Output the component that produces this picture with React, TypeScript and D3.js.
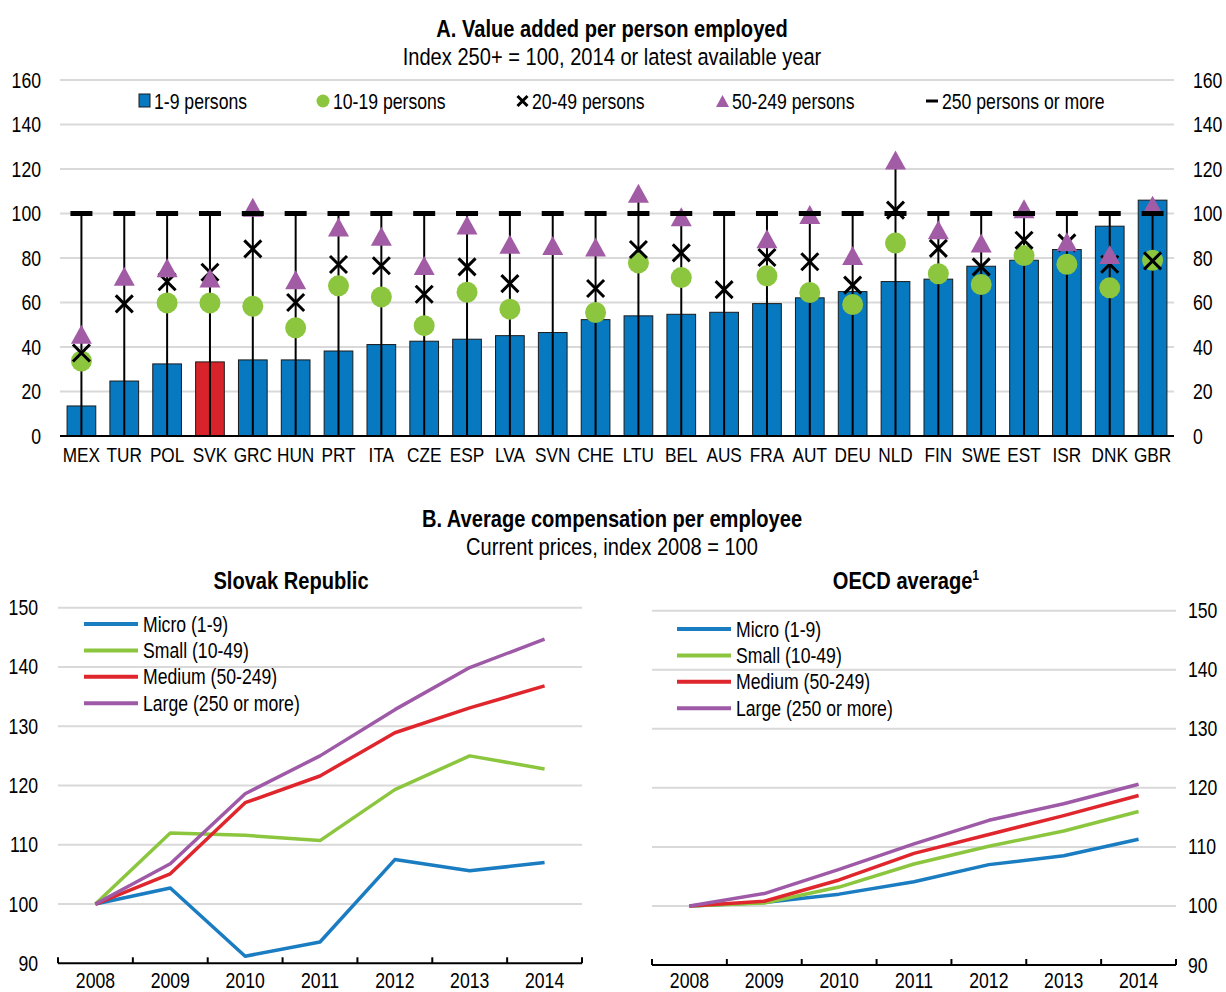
import React from "react";
import * as d3 from "d3";

const countries = ["MEX","TUR","POL","SVK","GRC","HUN","PRT","ITA","CZE","ESP","LVA","SVN","CHE","LTU","BEL","AUS","FRA","AUT","DEU","NLD","FIN","SWE","EST","ISR","DNK","GBR"];
const micro19: number[] = [13.5,24.7,32.4,33.3,34.2,34.2,38.2,41.1,42.6,43.5,45.1,46.5,52.3,54.0,54.7,55.6,59.5,62.1,64.9,69.4,70.5,76.3,79.0,83.8,94.3,106.0];
const small1019: (number|null)[] = [33.7,null,59.8,59.8,58.3,48.6,67.5,62.5,49.6,64.6,57.0,null,55.5,77.8,71.2,null,72.0,64.5,59.1,86.7,72.9,68.1,81.1,77.2,66.6,79.0];
const small2049: (number|null)[] = [37.3,59.4,69.3,73.6,84.1,60.0,77.1,76.5,63.7,76.0,68.5,null,66.3,83.8,82.3,65.8,80.2,78.3,67.8,101.5,84.3,76.0,88.0,86.8,77.2,78.7];
const medium50249: (number|null)[] = [45.7,71.8,75.6,71.0,102.8,70.2,93.9,89.8,76.6,94.8,86.2,85.6,84.9,109.1,98.5,null,88.6,99.6,81.1,124.1,92.7,86.7,102.1,87.3,81.6,103.7];
const large250: number[] = countries.map(() => 100);
const yTicksA = [0,20,40,60,80,100,120,140,160];

const years = ["2008","2009","2010","2011","2012","2013","2014"];
const yTicksB = [90,100,110,120,130,140,150];
const seriesNames = ["Micro (1-9)","Small (10-49)","Medium (50-249)","Large (250 or more)"];
const seriesColors = ["#1a7cc1","#8cc63f","#e0262d","#9e5aa6"];
const svkMicro = [100,102.7,91.2,93.6,107.5,105.6,107.0];
const svkSmall = [100,112.0,111.6,110.7,119.3,125.0,122.8];
const svkMedium = [100,105.1,117.1,121.6,128.9,133.1,136.8];
const svkLarge = [100,106.8,118.6,125.0,132.8,139.9,144.7];
const oecdMicro = [100,100.6,102.0,104.1,107.0,108.5,111.3];
const oecdSmall = [100,100.5,103.2,107.1,110.1,112.7,116.0];
const oecdMedium = [100,100.8,104.4,108.9,112.1,115.3,118.7];
const oecdLarge = [100,102.1,106.2,110.5,114.5,117.3,120.6];

const FONT = "'Liberation Sans',Arial,sans-serif";
const SX = 0.82;
const BLUE = "#0679c0";
const RED = "#d9232a";
const GREEN = "#8cc63f";
const PURPLE = "#a25ba5";
const GRID = "#d9d9d9";

function T({ x, y, size, anchor, bold, children }: any) {
  return (
    <text transform={`translate(${x},${y}) scale(${SX},1)`} textAnchor={anchor || "start"} fontSize={size} fontWeight={bold ? "bold" : "normal"} fill="#000">
      {children}
    </text>
  );
}

function Cross({ x, y, s }: { x: number; y: number; s: number }) {
  return <path d={`M${x - s},${y - s}L${x + s},${y + s}M${x - s},${y + s}L${x + s},${y - s}`} stroke="#000" strokeWidth={3} fill="none" />;
}
function Tri({ x, y, w, h }: { x: number; y: number; w: number; h: number }) {
  return <path d={`M${x},${y - h / 2}L${x + w / 2},${y + h / 2}L${x - w / 2},${y + h / 2}Z`} fill={PURPLE} />;
}

function PanelA() {
  const x = d3.scaleBand<string>().domain(countries).range([60, 1174]).paddingInner(0.33).paddingOuter(0.165);
  const y = d3.scaleLinear().domain([0, 160]).range([436, 80]);
  const bw = x.bandwidth();
  const cx = (c: string) => (x(c) as number) + bw / 2;
  return (
    <g>
      <T x={612} y={37} anchor="middle" bold size={24.5}>A. Value added per person employed</T>
      <T x={612} y={65} anchor="middle" size={24.5}>Index 250+ = 100, 2014 or latest available year</T>
      {yTicksA.filter(t => t > 0).map(t => (
        <line key={t} x1={60} x2={1174} y1={y(t)} y2={y(t)} stroke={GRID} strokeWidth={2} />
      ))}
      {yTicksA.map(t => (
        <g key={"l" + t}>
          <T x={41} y={y(t) + 7.5} anchor="end" size={21.5}>{t}</T>
          <T x={1193} y={y(t) + 7.5} size={21.5}>{t}</T>
        </g>
      ))}
      {countries.map((c, i) => (
        <rect key={"b" + c} x={x(c)} y={y(micro19[i])} width={bw} height={y(0) - y(micro19[i])} fill={c === "SVK" ? RED : BLUE} stroke="#1b1b1b" strokeWidth={1} />
      ))}
      <line x1={60} x2={1174} y1={y(0)} y2={y(0)} stroke="#000" strokeWidth={2} />
      {countries.map((c, i) => {
        const vals = [micro19[i], small1019[i], small2049[i], medium50249[i], large250[i]].filter(v => v != null) as number[];
        const mx = Math.max(...vals);
        return <line key={"v" + c} x1={cx(c)} x2={cx(c)} y1={y(0)} y2={y(mx)} stroke="#000" strokeWidth={2} />;
      })}
      {countries.map((c, i) => small1019[i] == null ? null : (
        <circle key={"c" + c} cx={cx(c)} cy={y(small1019[i] as number)} r={10.5} fill={GREEN} />
      ))}
      {countries.map((c, i) => small2049[i] == null ? null : (
        <Cross key={"x" + c} x={cx(c)} y={y(small2049[i] as number)} s={8.5} />
      ))}
      {countries.map((c, i) => medium50249[i] == null ? null : (
        <Tri key={"t" + c} x={cx(c)} y={y(medium50249[i] as number)} w={21} h={19} />
      ))}
      {countries.map((c, i) => (
        <rect key={"d" + c} x={cx(c) - 11} y={y(large250[i]) - 2.5} width={22} height={5} fill="#000" />
      ))}
      {countries.map(c => (
        <T key={"n" + c} x={cx(c)} y={462} anchor="middle" size={21}>{c}</T>
      ))}
      <g>
        <rect x={139} y={94} width={11} height={13} fill={BLUE} stroke="#1b1b1b" strokeWidth={1} />
        <T x={154} y={108.5} size={21.5}>1-9 persons</T>
        <circle cx={323} cy={101} r={6.5} fill={GREEN} />
        <T x={333} y={108.5} size={21.5}>10-19 persons</T>
        <Cross x={522.5} y={101} s={5} />
        <T x={532} y={108.5} size={21.5}>20-49 persons</T>
        <Tri x={722.5} y={101} w={13} h={12} />
        <T x={732} y={108.5} size={21.5}>50-249 persons</T>
        <rect x={926} y={99.5} width={12} height={3} fill="#000" />
        <T x={942} y={108.5} size={21.5}>250 persons or more</T>
      </g>
    </g>
  );
}

function LinePanel({ title, sup, titleX, x0, x1, yTop, yBot, data, leftAxis, legX, legY }: any) {
  const xb = d3.scaleBand<string>().domain(years).range([x0, x1]).padding(0);
  const cx = (yr: string) => (xb(yr) as number) + xb.bandwidth() / 2;
  const y = d3.scaleLinear().domain([90, 150]).range([yBot, yTop]);
  const line = d3.line<number>().x((_, i) => cx(years[i])).y(v => y(v));
  const ticks = years.map(yr => xb(yr) as number).concat([x1]);
  return (
    <g>
      <T x={titleX} y={589} anchor="middle" bold size={24.5}>
        {title}{sup ? <tspan fontSize={15} dy={-9}>{sup}</tspan> : null}
      </T>
      {yTicksB.filter(t => t > 90).map(t => (
        <line key={t} x1={x0} x2={x1} y1={y(t)} y2={y(t)} stroke={GRID} strokeWidth={2} />
      ))}
      {yTicksB.map(t => (
        <T key={"l" + t} x={leftAxis ? 38 : x1 + 12} y={y(t) + 7.5} anchor={leftAxis ? "end" : "start"} size={21.5}>{t}</T>
      ))}
      <line x1={x0} x2={x1} y1={yBot} y2={yBot} stroke="#000" strokeWidth={2} />
      {ticks.map((t, i) => (
        <line key={"k" + i} x1={t} x2={t} y1={yBot} y2={yBot - 6} stroke="#000" strokeWidth={2} />
      ))}
      {years.map(yr => (
        <T key={"y" + yr} x={cx(yr)} y={987.5} anchor="middle" size={21.5}>{yr}</T>
      ))}
      {data.map((d: number[], i: number) => (
        <path key={"p" + i} d={line(d) as string} fill="none" stroke={seriesColors[i]} strokeWidth={3.5} strokeLinejoin="round" />
      ))}
      {seriesNames.map((n, i) => (
        <g key={"g" + i}>
          <line x1={legX} x2={legX + 54} y1={legY + i * 26.4} y2={legY + i * 26.4} stroke={seriesColors[i]} strokeWidth={4} />
          <T x={legX + 59} y={legY + i * 26.4 + 7.5} size={21.5}>{n}</T>
        </g>
      ))}
    </g>
  );
}

export default function App() {
  return (
    <svg width={1226} height={992} style={{ display: "block", fontFamily: FONT, position: "absolute", left: 0, top: 0 }} fontFamily={FONT}>
      <rect width={1226} height={992} fill="#fff" />
      <PanelA />
      <T x={612} y={527} anchor="middle" bold size={24.5}>B. Average compensation per employee</T>
      <T x={612} y={555} anchor="middle" size={24.5}>Current prices, index 2008 = 100</T>
      <LinePanel title="Slovak Republic" titleX={291} x0={58} x1={582} yTop={607.7} yBot={963.3} data={[svkMicro, svkSmall, svkMedium, svkLarge]} leftAxis={true} legX={84} legY={624} />
      <LinePanel title="OECD average" sup="1" titleX={906} x0={652} x1={1176} yTop={610.7} yBot={965} data={[oecdMicro, oecdSmall, oecdMedium, oecdLarge]} leftAxis={false} legX={677} legY={629} />
    </svg>
  );
}
